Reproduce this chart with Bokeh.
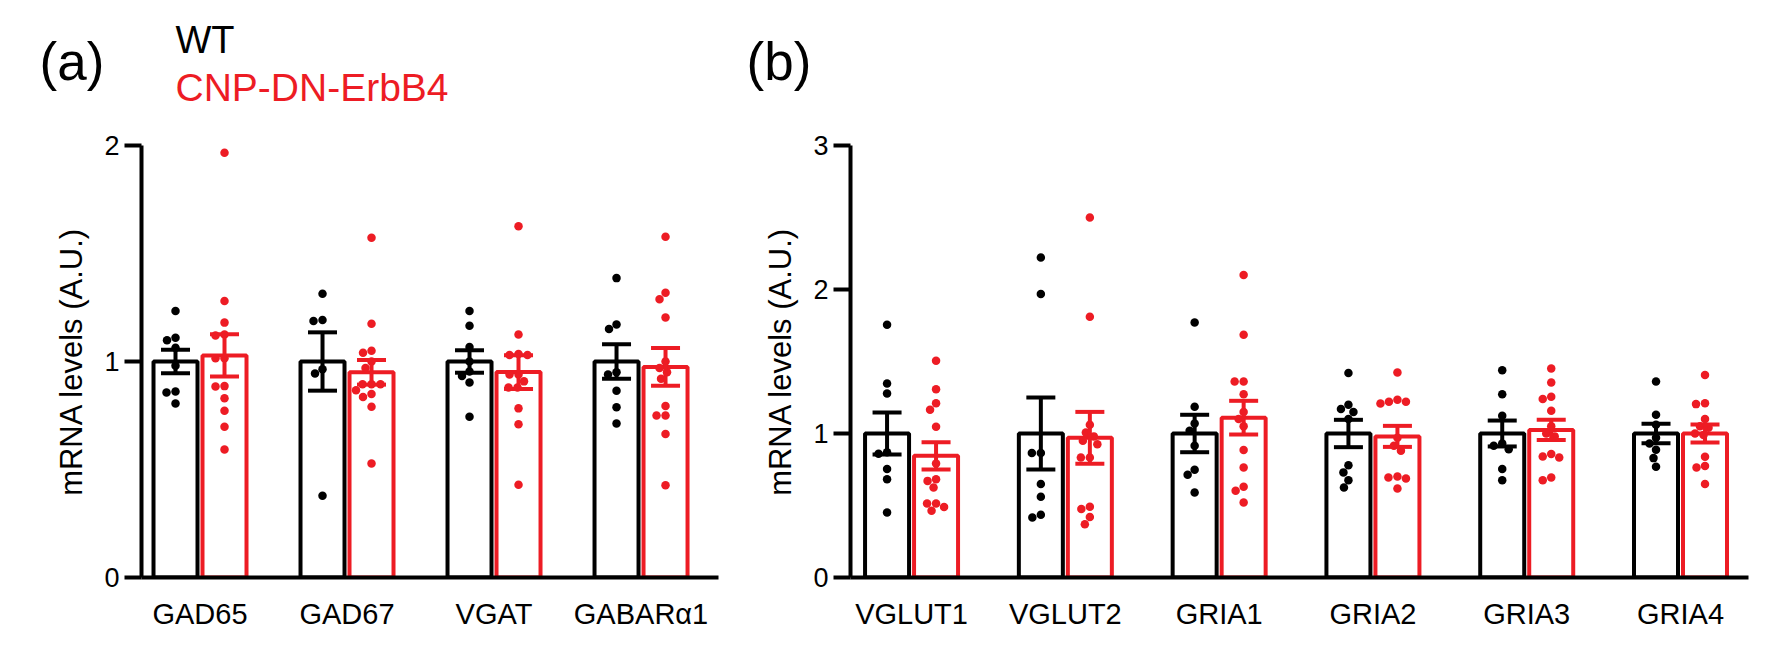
import numpy as np
from bokeh.plotting import figure
from bokeh.layouts import row, column
from bokeh.models import FixedTicker, Range1d
from bokeh.core.properties import value
from bokeh.embed import file_html
from bokeh.resources import INLINE

BLACK = "#000000"
RED = "#ED1C24"
FONT = "Liberation Sans"

# ---------------- data: panel (a) ----------------
genes_a = ["GAD65", "GAD67", "VGAT", "GABARα1"]
wt_mean_a = [1.0, 1.0, 1.0, 1.0]
wt_sem_a = [0.054, 0.135, 0.052, 0.080]
dn_mean_a = [1.028, 0.950, 0.951, 0.975]
dn_sem_a = [0.098, 0.057, 0.078, 0.087]
wt_pts_a = [
    [1.234, 1.110, 1.098, 1.064, 0.980, 0.861, 0.856, 0.806],
    [1.314, 1.192, 1.188, 0.964, 0.944, 0.379],
    [1.234, 1.165, 1.067, 1.000, 0.954, 0.933, 0.903, 0.744],
    [1.386, 1.171, 1.150, 0.950, 0.940, 0.865, 0.788, 0.713],
]
dn_pts_a = [
    [1.966, 1.280, 1.180, 1.125, 1.120, 1.015, 1.015, 0.886, 0.884, 0.830, 0.772, 0.698, 0.593],
    [1.573, 1.175, 1.050, 1.040, 1.000, 0.970, 0.895, 0.895, 0.895, 0.867, 0.850, 0.836, 0.790, 0.528],
    [1.626, 1.125, 1.035, 1.030, 1.030, 0.940, 0.940, 0.908, 0.880, 0.880, 0.783, 0.709, 0.429],
    [1.577, 1.318, 1.288, 1.204, 1.000, 0.970, 0.950, 0.920, 0.794, 0.750, 0.750, 0.664, 0.427],
]

# ---------------- data: panel (b) ----------------
genes_b = ["VGLUT1", "VGLUT2", "GRIA1", "GRIA2", "GRIA3", "GRIA4"]
wt_mean_b = [1.0, 1.0, 1.0, 1.0, 1.0, 1.0]
wt_sem_b = [0.145, 0.250, 0.130, 0.095, 0.090, 0.067]
dn_mean_b = [0.845, 0.970, 1.110, 0.980, 1.025, 1.000]
dn_sem_b = [0.095, 0.180, 0.117, 0.073, 0.070, 0.063]
wt_pts_b = [
    [1.755, 1.347, 1.278, 0.870, 0.860, 0.753, 0.683, 0.451],
    [2.222, 1.968, 0.864, 0.864, 0.649, 0.560, 0.435, 0.417],
    [1.771, 1.185, 1.069, 1.019, 0.915, 0.748, 0.713, 0.590],
    [1.420, 1.200, 1.170, 1.150, 1.100, 0.780, 0.730, 0.676, 0.625],
    [1.440, 1.273, 1.123, 0.930, 0.915, 0.890, 0.753, 0.676],
    [1.361, 1.130, 1.060, 0.970, 0.930, 0.887, 0.829, 0.769],
]
dn_pts_b = [
    [1.505, 1.308, 1.210, 1.165, 1.047, 0.792, 0.683, 0.671, 0.625, 0.514, 0.514, 0.490, 0.463],
    [2.500, 1.810, 1.060, 1.007, 0.980, 0.950, 0.925, 0.833, 0.833, 0.491, 0.475, 0.420, 0.370],
    [2.100, 1.685, 1.361, 1.361, 1.273, 1.150, 1.100, 1.050, 0.885, 0.764, 0.630, 0.602, 0.521],
    [1.424, 1.234, 1.220, 1.220, 1.208, 0.970, 0.915, 0.880, 0.701, 0.694, 0.688, 0.618],
    [1.451, 1.354, 1.255, 1.239, 1.158, 1.050, 1.000, 0.980, 0.857, 0.840, 0.833, 0.694, 0.676],
    [1.407, 1.210, 1.204, 1.100, 1.050, 1.040, 1.000, 0.990, 0.838, 0.775, 0.764, 0.649],
]

legend_labels = ["WT", "CNP-DN-ErbB4"]
panel_letters = ["(a)", "(b)"]

HEADER_H = 131
TOP, BOTTOM, FRAME_H = 14, 78, 432
PANEL_H = TOP + FRAME_H + BOTTOM
WA, WB = 745, 1029


def swarm(vals, ypx, dot=8.6):
    """beeswarm x-offsets in pixels"""
    placed = []
    offs = []
    cands = sorted(np.arange(-40, 40.5, 0.5), key=lambda c: (abs(c), c))
    for v in vals:
        y = v * ypx
        chosen = 0.0
        for c in cands:
            if all((c - px) ** 2 + (y - py) ** 2 >= dot ** 2 for px, py in placed):
                chosen = c
                break
        placed.append((chosen, y))
        offs.append(chosen)
    return offs


def make_panel(genes, wt_mean, wt_sem, dn_mean, dn_sem, wt_pts, dn_pts, ymax,
               width, left, right, xr):
    p = figure(width=width, height=PANEL_H, output_backend="svg", toolbar_location=None,
               x_range=Range1d(*xr), y_range=Range1d(0, ymax),
               min_border_left=left, min_border_right=right,
               min_border_top=TOP, min_border_bottom=BOTTOM)
    p.outline_line_color = None
    p.grid.visible = False
    p.background_fill_color = "white"
    p.border_fill_color = "white"

    frame_w = width - left - right
    xpx = frame_w / (xr[1] - xr[0])
    ypx = FRAME_H / ymax

    n = len(genes)
    idx = np.arange(n, dtype=float)
    d = 24.5 / xpx
    bw = 44.0 / xpx
    cap = 14.5 / xpx

    groups = [(idx - d, wt_mean, wt_sem, wt_pts, BLACK),
              (idx + d, dn_mean, dn_sem, dn_pts, RED)]
    for xs, means, sems, pts, col in groups:
        p.vbar(x=xs, top=means, bottom=0, width=bw, fill_color="white",
               line_color=col, line_width=4)
    for xs, means, sems, pts, col in groups:
        px_, py_ = [], []
        for xc, vals in zip(xs, pts):
            offs = swarm(vals, ypx)
            px_ += [xc + o / xpx for o in offs]
            py_ += list(vals)
        p.scatter(px_, py_, size=8.5, fill_color=col, line_color=col, line_width=0)
    for xs, means, sems, pts, col in groups:
        m = np.array(means)
        s = np.array(sems)
        p.segment(x0=xs, y0=m - s, x1=xs, y1=m + s, line_color=col, line_width=4)
        p.segment(x0=xs - cap, y0=m + s, x1=xs + cap, y1=m + s, line_color=col, line_width=4)
        p.segment(x0=xs - cap, y0=m - s, x1=xs + cap, y1=m - s, line_color=col, line_width=4)

    yax = p.yaxis[0]
    yax.ticker = FixedTicker(ticks=list(range(0, ymax + 1)))
    yax.minor_tick_line_color = None
    yax.major_tick_out = 17
    yax.major_tick_in = 0
    yax.major_tick_line_width = 4
    yax.axis_line_width = 4
    yax.major_label_text_font = FONT
    yax.major_label_text_font_size = "27px"
    yax.major_label_text_color = BLACK
    yax.major_label_standoff = 5
    yax.axis_label = "mRNA levels (A.U.)"
    yax.axis_label_text_font = FONT
    yax.axis_label_text_font_size = "31px"
    yax.axis_label_text_font_style = "normal"
    yax.axis_label_text_color = BLACK
    yax.axis_label_standoff = 12

    xax = p.xaxis[0]
    xax.ticker = FixedTicker(ticks=list(idx))
    xax.major_label_overrides = {float(i): g for i, g in enumerate(genes)}
    xax.minor_tick_line_color = None
    xax.major_tick_line_color = None
    xax.major_tick_out = 0
    xax.major_tick_in = 0
    xax.axis_line_width = 4
    xax.major_label_text_font = FONT
    xax.major_label_text_font_size = "29px"
    xax.major_label_text_color = BLACK
    xax.major_label_standoff = 20
    return p


pa = make_panel(genes_a, wt_mean_a, wt_sem_a, dn_mean_a, dn_sem_a, wt_pts_a, dn_pts_a, 2,
                width=WA, left=141, right=27, xr=(-0.398, 3.527))
pb = make_panel(genes_b, wt_mean_b, wt_sem_b, dn_mean_b, dn_sem_b, wt_pts_b, dn_pts_b, 3,
                width=WB, left=105, right=26, xr=(-0.397, 5.442))

# header strip with panel letters and legend text (pixel coordinates, y measured upward)
hd = figure(width=WA + WB, height=HEADER_H, output_backend="svg", toolbar_location=None,
            x_range=Range1d(0, WA + WB), y_range=Range1d(0, HEADER_H),
            x_axis_type=None, y_axis_type=None,
            min_border_left=0, min_border_right=0, min_border_top=0, min_border_bottom=0)
hd.outline_line_color = None
hd.grid.visible = False
hd.text(x=[39, 746], y=[HEADER_H - 60.5, HEADER_H - 60.5], text=panel_letters,
        text_font=value(FONT), text_font_size=value("53px"), text_color=BLACK,
        text_baseline="middle", text_align="left")
hd.text(x=[175], y=[HEADER_H - 39], text=[legend_labels[0]],
        text_font=value(FONT), text_font_size=value("38px"), text_color=BLACK,
        text_baseline="middle", text_align="left")
hd.text(x=[175], y=[HEADER_H - 87], text=[legend_labels[1]],
        text_font=value(FONT), text_font_size=value("39px"), text_color=RED,
        text_baseline="middle", text_align="left")

layout = column(hd, row(pa, pb))
open("out.html", "w").write(file_html(layout, INLINE))
